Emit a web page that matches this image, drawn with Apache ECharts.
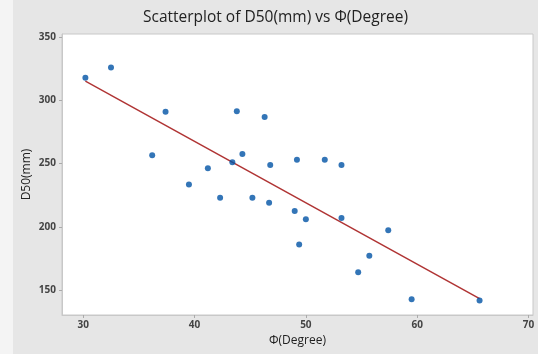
<!DOCTYPE html>
<html>
<head>
<meta charset="utf-8">
<script src="https://cdn.jsdelivr.net/npm/echarts@6/dist/echarts.min.js"></script>
<style>
html,body{margin:0;padding:0;background:#f4f4f4;}
#c{position:absolute;left:13px;top:0;width:525px;height:354px;background:#e6e6e6;}
</style>
</head>
<body>
<div id="c"></div>
<script>
// Data
const phi = [30.2, 32.5, 37.4, 43.8, 46.3, 36.2, 44.3, 49.2, 43.4, 46.8, 41.2, 39.5, 42.3, 45.2, 46.7, 49.0, 51.7, 53.2, 49.4, 50.0, 53.2, 57.4, 55.7, 54.7, 59.5, 65.6];
const d50 = [318, 326, 291, 291.5, 287, 256.6, 257.7, 253, 251, 249, 246.4, 233.4, 223, 223, 219, 212.5, 253, 249, 186, 206, 207, 197.3, 177, 164, 142.7, 141.6];
const xTicks = [30, 40, 50, 60, 70];
const yTicks = [150, 200, 250, 300, 350];

// least-squares fitted line
const n = phi.length;
const mx = phi.reduce((a, b) => a + b, 0) / n;
const my = d50.reduce((a, b) => a + b, 0) / n;
let sxy = 0, sxx = 0;
for (let i = 0; i < n; i++) { sxy += (phi[i] - mx) * (d50[i] - my); sxx += (phi[i] - mx) ** 2; }
const slope = sxy / sxx, icpt = my - slope * mx;
const xmin = Math.min(...phi), xmax = Math.max(...phi);
const fit = [[xmin, icpt + slope * xmin], [xmax, icpt + slope * xmax]];

const font = '"Open Sans", "Noto Sans", sans-serif';
const chart = echarts.init(document.getElementById('c'), null, {renderer: 'canvas'});
chart.setOption({
  animation: false,
  backgroundColor: '#e6e6e6',
  title: {
    text: 'Scatterplot of D50(mm) vs Φ(Degree)',
    left: 'center', top: 5,
    textStyle: {fontFamily: font, fontSize: 15.5, fontWeight: 'normal', color: '#222'}
  },
  grid: {left: 49, right: 5, top: 34, bottom: 39, outerBoundsMode: 'none', containLabel: false,
         show: true, backgroundColor: '#fff', borderColor: '#c8c8c8', borderWidth: 1},
  xAxis: {
    type: 'value', min: 28.1, max: 70.4,
    name: 'Φ(Degree)', nameLocation: 'middle', nameGap: 20, nameMoveOverlap: false,
    nameTextStyle: {fontFamily: font, fontSize: 12, color: '#222'},
    axisLine: {show: true, lineStyle: {color: '#c8c8c8'}},
    axisTick: {show: true, length: 3, lineStyle: {color: '#aaa'}, customValues: xTicks},
    axisLabel: {customValues: xTicks, fontFamily: font, fontSize: 10, fontWeight: 'bold', color: '#444', margin: 5},
    splitLine: {show: false}
  },
  yAxis: {
    type: 'value', min: 130.2, max: 352.6,
    name: 'D50(mm)', nameLocation: 'middle', nameGap: 29, nameRotate: 90, nameMoveOverlap: false,
    nameTextStyle: {fontFamily: font, fontSize: 12, color: '#222'},
    axisLine: {show: true, lineStyle: {color: '#c8c8c8'}},
    axisTick: {show: true, length: 3, lineStyle: {color: '#aaa'}, customValues: yTicks},
    axisLabel: {customValues: yTicks, fontFamily: font, fontSize: 10, fontWeight: 'bold', color: '#444', margin: 6},
    splitLine: {show: false}
  },
  series: [
    {
      type: 'line', data: fit, symbol: 'none', silent: true,
      lineStyle: {color: '#b03434', width: 1.5}, z: 2
    },
    {
      type: 'scatter', data: phi.map((x, i) => [x, d50[i]]),
      symbol: 'circle', symbolSize: 6,
      itemStyle: {color: '#0052a5'}, z: 3
    }
  ]
});
</script>
</body>
</html>
